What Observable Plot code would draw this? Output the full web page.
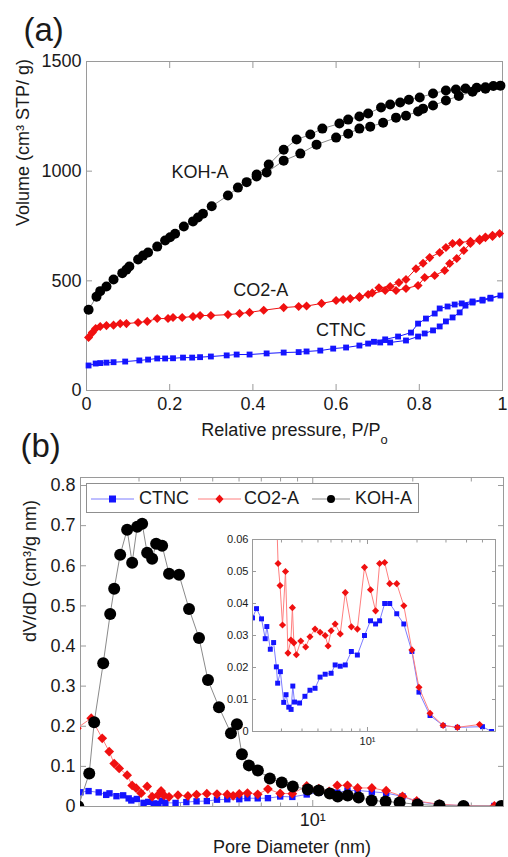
<!DOCTYPE html>
<html><head><meta charset="utf-8">
<script src="https://cdn.jsdelivr.net/npm/d3@7"></script>
<script src="https://cdn.jsdelivr.net/npm/@observablehq/plot@0.6"></script>
<style>
body{margin:0;background:#fff;}
#wrap{position:relative;width:508px;height:857px;overflow:hidden;font-family:"Liberation Sans",Arial,Helvetica,sans-serif;color:#1a1a1a;}
#wrap > svg{position:absolute;}
</style></head><body><div id="wrap"></div>
<script>
// ---------- Panel (a): N2 isotherms (adsorption branch then desorption branch) ----------
const kohP = [0.005,0.024,0.033,0.048,0.065,0.086,0.096,0.103,0.124,0.136,0.148,0.170,0.189,0.201,0.213,0.234,0.256,0.268,0.280,0.301,0.340,0.364,0.385,0.409,0.433,0.474,0.514,0.553,0.600,0.629,0.656,0.682,0.713,0.744,0.768,0.797,0.809,0.833,0.864,0.895,0.928,0.959,0.995,
              0.978,0.959,0.938,0.911,0.888,0.864,0.833,0.801,0.775,0.754,0.730,0.708,0.677,0.656,0.629,0.608,0.567,0.538,0.505,0.474,0.438,0.409];
const kohV = [368,428,453,474,506,535,551,565,597,615,629,656,684,699,715,748,771,789,806,840,889,925,950,976,994,1048,1080,1121,1153,1171,1194,1203,1221,1244,1253,1272,1285,1299,1322,1343,1362,1376,1390,
              1388,1383,1380,1377,1372,1368,1354,1336,1326,1313,1304,1290,1263,1249,1235,1217,1194,1167,1144,1098,1030,985];
const co2P = [0.005,0.014,0.022,0.033,0.048,0.065,0.081,0.096,0.124,0.146,0.170,0.196,0.208,0.230,0.256,0.273,0.299,0.340,0.368,0.392,0.426,0.474,0.510,0.529,0.565,0.600,0.634,0.656,0.677,0.718,0.744,0.768,0.797,0.813,0.837,0.861,0.873,0.890,0.907,0.923,0.945,0.959,0.976,0.993,
              0.976,0.959,0.945,0.923,0.897,0.880,0.864,0.849,0.825,0.809,0.792,0.768,0.751,0.730,0.703,0.687,0.656,0.617];
const co2V = [242,264,283,292,296,298,305,305,310,315,328,328,333,333,337,342,342,346,351,356,366,378,383,385,397,410,419,424,438,456,456,465,479,515,524,547,579,602,638,670,684,697,702,716,
              708,700,690,680,675,670,652,629,606,580,555,506,492,474,468,445,428,415];
const ctncP = [0.005,0.022,0.033,0.048,0.065,0.093,0.127,0.148,0.170,0.189,0.208,0.232,0.254,0.273,0.299,0.337,0.361,0.392,0.433,0.474,0.510,0.529,0.562,0.593,0.624,0.656,0.677,0.706,0.730,0.768,0.797,0.813,0.833,0.849,0.864,0.880,0.897,0.911,0.928,0.952,0.971,0.995,
               0.971,0.952,0.928,0.902,0.885,0.868,0.849,0.837,0.816,0.797,0.780,0.749,0.718,0.691];
const ctncV = [114,123,125,127,129,132,137,141,146,146,147,150,150,152,155,160,164,164,169,173,175,178,182,191,196,205,214,219,219,228,246,260,274,292,315,333,356,387,401,410,419,433,
               423,414,406,397,392,383,374,351,328,305,264,246,233,222];
const isoXTicks = [0, 0.2, 0.4, 0.6, 0.8, 1];
const isoYTicks = [0, 500, 1000, 1500];
const isoLabels = [{text: "KOH-A", p: 0.273, v: 994}, {text: "CO2-A", p: 0.419, v: 456}, {text: "CTNC", p: 0.612, v: 274}];

// ---------- Panel (b): BJH pore size distributions ----------
const kohD = [1.97,2.125,2.199,2.341,2.457,2.526,2.633,2.763,2.861,2.962,3.066,3.174,3.286,3.378,3.521,3.694,3.959,4.243,4.547,4.838,5.221,5.673,5.913,6.121,6.424,6.837,7.428,8.069,8.709,9.660,10.42,11.25,11.89,12.74,13.74,15.04,16.57,18.25,20.67,24.06,28.41,36.94];
const kohDV = [0.0,0.0825,0.21,0.357,0.48,0.5425,0.6275,0.69,0.6075,0.6975,0.705,0.6325,0.6175,0.655,0.65,0.58,0.5775,0.4925,0.42,0.315,0.2475,0.1825,0.205,0.13,0.1025,0.09,0.07,0.06,0.05,0.0425,0.04,0.0325,0.025,0.0275,0.0225,0.015,0.0125,0.01,0.005,0.0025,0.001,0.001];
const co2D = [1.95,2.154,2.325,2.44,2.526,2.615,2.763,2.861,2.941,3.044,3.174,3.286,3.424,3.496,3.569,3.694,3.93,4.21,4.47,4.80,5.15,5.53,5.76,6.01,6.36,6.83,7.33,7.98,8.68,9.59,10.43,11.2,11.85,12.72,13.65,15.06,16.63,18.62,20.55,24.0,28.8,35.2,48.0];
const co2DV = [0.195,0.22,0.17,0.137,0.107,0.095,0.078,0.0525,0.0456,0.0333,0.050,0.0245,0.0286,0.0387,0.0277,0.024,0.0283,0.0264,0.0296,0.032,0.031,0.030,0.0267,0.0315,0.0336,0.0305,0.0434,0.0327,0.032,0.0513,0.0443,0.0377,0.0525,0.0528,0.0462,0.0462,0.0393,0.0255,0.0138,0.0057,0.0019,0.0013,0.0022];
const ctncD = [2.0,2.115,2.269,2.39,2.445,2.566,2.688,2.793,2.844,2.955,3.096,3.198,3.323,3.433,3.516,3.601,3.865,4.165,4.47,4.80,5.15,5.53,6.01,6.36,6.83,7.33,7.98,8.68,9.59,10.43,11.2,11.85,12.72,13.65,15.06,16.63,18.62,20.55,24.0,28.8,35.2,50.0,56.8];
const ctncDV = [0.0355,0.0384,0.0352,0.029,0.0328,0.0257,0.0278,0.0202,0.0151,0.0187,0.0091,0.0115,0.0076,0.0069,0.0142,0.0092,0.0089,0.011,0.0129,0.0135,0.017,0.0179,0.0182,0.0208,0.0204,0.0208,0.025,0.0239,0.030,0.0346,0.0336,0.0346,0.040,0.040,0.0368,0.0336,0.025,0.0123,0.005,0.0019,0.0013,0.0015,0.0];
const psdXMajor = [10];
const psdXMinor = [2,3,4,5,6,7,8,9,20,30];
const psdYTicks = [0,0.1,0.2,0.3,0.4,0.5,0.6,0.7,0.8];
const insetXMinor = [2,3,4,5,6,7,8,9,20,30,40,50];
const insetYTicks = [0,0.01,0.02,0.03,0.04,0.05,0.06];
const seriesNames = ["CTNC", "CO2-A", "KOH-A"];

// ---------- styles ----------
const FONT = '"Liberation Sans", Arial, Helvetica, sans-serif';
const AXIS = "#9a9a9a";
const INK = "#1a1a1a";
const C = {ctnc: "#1414ff", co2: "#f01010", koh: "#000000"};
const L = {ctnc: "#7d7dff", co2: "#ff7f7f", koh: "#8a8a8a"};
const pts = (xs, ys) => xs.map((x, i) => ({x, y: ys[i]}));
const fmt10 = d => d === 10 ? "10\u00b9" : "";

function boxTicks(xT, yT, len, xMinor, minorLen) {
  const o = {stroke: AXIS, fill: "none", label: null};
  const m = [];
  for (const anchor of ["bottom", "top"]) {
    m.push(Plot.axisX(xT, {...o, anchor, tickSize: -len}));
    if (xMinor) m.push(Plot.axisX(xMinor, {...o, anchor, tickSize: -minorLen}));
  }
  for (const anchor of ["left", "right"]) m.push(Plot.axisY(yT, {...o, anchor, tickSize: -len}));
  return m;
}

const wrap = document.getElementById("wrap");
function place(svg, left, top) { svg.style.left = left + "px"; svg.style.top = top + "px"; wrap.appendChild(svg); return svg; }

// ---------- Panel (a) ----------
const koh = pts(kohP, kohV), co2 = pts(co2P, co2V), ctnc = pts(ctncP, ctncV);
const pa = Plot.plot({
  width: 508, height: 440, marginLeft: 86, marginRight: 6, marginTop: 61, marginBottom: 50,
  style: {fontFamily: FONT, fontSize: "18px", background: "transparent", color: INK, overflow: "visible"},
  x: {domain: [0, 1]}, y: {domain: [0, 1500]},
  marks: [
    Plot.frame({stroke: AXIS}),
    ...boxTicks(isoXTicks, isoYTicks, 6),
    Plot.axisX(isoXTicks, {anchor: "bottom", tickSize: 0, tickPadding: 7, label: null, fontSize: 18, tickFormat: d => String(d)}),
    Plot.axisY(isoYTicks, {anchor: "left", tickSize: 0, tickPadding: 5, label: null, fontSize: 18, tickFormat: d => String(d)}),
    Plot.line(ctnc, {x: "x", y: "y", stroke: C.ctnc, strokeWidth: 1}),
    Plot.dot(ctnc, {x: "x", y: "y", symbol: "square", r: 3.3, fill: C.ctnc}),
    Plot.line(co2, {x: "x", y: "y", stroke: C.co2, strokeWidth: 1}),
    Plot.dot(co2, {x: "x", y: "y", symbol: "diamond2", r: 4.1, fill: C.co2}),
    Plot.line(koh, {x: "x", y: "y", stroke: L.koh, strokeWidth: 1}),
    Plot.dot(koh, {x: "x", y: "y", r: 5, fill: C.koh}),
    Plot.text(isoLabels, {x: "p", y: "v", text: "text", fontSize: 18, fill: INK}),
    Plot.text(["(a)"], {text: d => d, frameAnchor: "top-left", dx: -63, dy: -31, textAnchor: "start", lineAnchor: "middle", fontSize: 33, fill: INK}),
    Plot.text(["Relative pressure, P/Po"], {text: d => d, frameAnchor: "bottom", dy: 40, lineAnchor: "middle", fontSize: 18, fill: INK}),
    Plot.text(["Volume (cm\u00b3 STP/ g)"], {text: d => d, frameAnchor: "left", dx: -63, rotate: -90, lineAnchor: "middle", fontSize: 18, fill: INK})
  ]
});
place(pa, 0, 0);
// subscript "o" in P/Po
d3.select(pa).selectAll("text").filter(function () { return this.textContent === "Relative pressure, P/Po"; }).each(function () {
  this.textContent = "Relative pressure, P/P";
  const t = document.createElementNS("http://www.w3.org/2000/svg", "tspan");
  t.setAttribute("baseline-shift", "sub"); t.setAttribute("font-size", "0.72em"); t.textContent = "o";
  this.appendChild(t);
});

// ---------- Panel (b) ----------
const kohB = pts(kohD, kohDV), co2B = pts(co2D, co2DV), ctncB = pts(ctncD, ctncDV);
const pb = Plot.plot({
  width: 508, height: 417, marginLeft: 80, marginRight: 5, marginTop: 37, marginBottom: 51,
  style: {fontFamily: FONT, fontSize: "18px", background: "transparent", color: INK, overflow: "visible"},
  x: {type: "log", domain: [2, 37.5]}, y: {domain: [0, 0.82]},
  marks: [
    Plot.frame({stroke: AXIS}),
    ...boxTicks(psdXMajor, psdYTicks, 6, psdXMinor, 3.5),
    Plot.axisX(psdXMajor, {anchor: "bottom", tickSize: 0, tickPadding: 7, label: null, fontSize: 18, tickFormat: fmt10}),
    Plot.axisY(psdYTicks, {anchor: "left", tickSize: 0, tickPadding: 5, label: null, fontSize: 18, tickFormat: d => String(d)}),
    Plot.line(ctncB, {x: "x", y: "y", stroke: L.ctnc, strokeWidth: 1, clip: true}),
    Plot.dot(ctncB, {x: "x", y: "y", symbol: "square", r: 3.6, fill: C.ctnc, clip: true}),
    Plot.line(co2B, {x: "x", y: "y", stroke: L.co2, strokeWidth: 1, clip: true}),
    Plot.dot(co2B, {x: "x", y: "y", symbol: "diamond2", r: 4.4, fill: C.co2, clip: true}),
    Plot.line(kohB, {x: "x", y: "y", stroke: L.koh, strokeWidth: 1, clip: true}),
    Plot.dot(kohB, {x: "x", y: "y", r: 6, fill: C.koh, clip: true}),
    Plot.text(["(b)"], {text: d => d, frameAnchor: "top-left", dx: -60, dy: -31, textAnchor: "start", lineAnchor: "middle", fontSize: 33, fill: INK}),
    Plot.text(["Pore Diameter (nm)"], {text: d => d, frameAnchor: "bottom", dy: 41, lineAnchor: "middle", fontSize: 18, fill: INK}),
    Plot.text(["dV/dD (cm\u00b3/g nm)"], {text: d => d, frameAnchor: "left", dx: -50, rotate: -90, lineAnchor: "middle", fontSize: 18, fill: INK})
  ]
});
place(pb, 0, 440);

// ---------- Inset ----------
const pi = Plot.plot({
  width: 300, height: 225, marginLeft: 42, marginRight: 15, marginTop: 9, marginBottom: 24,
  style: {fontFamily: FONT, fontSize: "11px", background: "transparent", color: INK, overflow: "visible"},
  x: {type: "log", domain: [2, 60]}, y: {domain: [0, 0.06]},
  marks: [
    Plot.frame({fill: "white", stroke: "none"}),
    Plot.line(ctncB, {x: "x", y: "y", stroke: L.ctnc, strokeWidth: 1, clip: true}),
    Plot.dot(ctncB, {x: "x", y: "y", symbol: "square", r: 2.8, fill: C.ctnc, clip: true}),
    Plot.line(co2B, {x: "x", y: "y", stroke: L.co2, strokeWidth: 1, clip: true}),
    Plot.dot(co2B, {x: "x", y: "y", symbol: "diamond2", r: 3.2, fill: C.co2, clip: true}),
    Plot.frame({stroke: AXIS}),
    ...boxTicks(psdXMajor, insetYTicks, 4, insetXMinor, 2.5),
    Plot.axisX(psdXMajor, {anchor: "bottom", tickSize: 0, tickPadding: 6, label: null, fontSize: 11, tickFormat: fmt10}),
    Plot.axisY(insetYTicks, {anchor: "left", tickSize: 0, tickPadding: 4, label: null, fontSize: 11, tickFormat: d => String(d)})
  ]
});
place(pi, 210, 530);

// ---------- Legend (inside panel b) ----------
const leg = document.createElement("div");
leg.style.cssText = "position:absolute;left:86px;top:483px;width:333px;height:30px;box-sizing:border-box;border:1px solid #8f8f8f;background:#fff;font-size:18px;";
const legItems = [
  {name: seriesNames[0], line: L.ctnc, fill: C.ctnc, sym: "square", x0: 4, x1: 47, tx: 52},
  {name: seriesNames[1], line: L.co2, fill: C.co2, sym: "diamond", x0: 111, x1: 154, tx: 157},
  {name: seriesNames[2], line: L.koh, fill: C.koh, sym: "circle", x0: 225, x1: 263, tx: 268}
];
for (const it of legItems) {
  const cx = (it.x0 + it.x1) / 2, cy = 15;
  let s;
  if (it.sym === "square") s = `<rect x="${cx - 3.5}" y="${cy - 3.5}" width="7" height="7" fill="${it.fill}"/>`;
  else if (it.sym === "diamond") s = `<path d="M${cx},${cy - 4.5}L${cx + 4},${cy}L${cx},${cy + 4.5}L${cx - 4},${cy}Z" fill="${it.fill}"/>`;
  else s = `<circle cx="${cx}" cy="${cy}" r="4" fill="${it.fill}"/>`;
  leg.insertAdjacentHTML("beforeend",
    `<svg style="position:absolute;left:0;top:0;overflow:visible" width="1" height="1"><line x1="${it.x0}" y1="${cy}" x2="${it.x1}" y2="${cy}" stroke="${it.line}" stroke-width="1"/>${s}</svg>` +
    `<span style="position:absolute;left:${it.tx}px;top:0;line-height:28px;white-space:nowrap;">${it.name}</span>`);
}
wrap.appendChild(leg);
</script>
</body></html>
